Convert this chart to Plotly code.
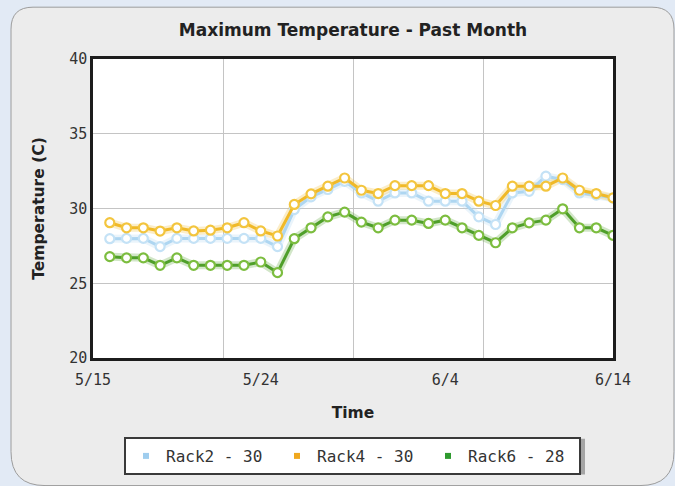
import plotly.graph_objects as go

# ---- data ----
dates = [
    "2010-05-15", "2010-05-16", "2010-05-17", "2010-05-18", "2010-05-19",
    "2010-05-20", "2010-05-21", "2010-05-22", "2010-05-23", "2010-05-24",
    "2010-05-25", "2010-05-26", "2010-05-27", "2010-05-28", "2010-05-29",
    "2010-05-30", "2010-05-31", "2010-06-01", "2010-06-02", "2010-06-03",
    "2010-06-04", "2010-06-05", "2010-06-06", "2010-06-07", "2010-06-08",
    "2010-06-09", "2010-06-10", "2010-06-11", "2010-06-12", "2010-06-13",
    "2010-06-14",
]
rack2 = [27.98, 28.0, 28.0, 27.45, 28.0, 28.0, 28.0, 28.0, 28.0, 28.0, 27.45,
         29.93, 30.78, 31.27, 31.82, 31.04, 30.49, 31.04, 31.04, 30.49, 30.49,
         30.49, 29.44, 28.93, 31.04, 31.15, 32.16, 31.93, 31.04, 30.9, 30.7]
rack4 = [29.05, 28.71, 28.71, 28.49, 28.71, 28.5, 28.55, 28.71, 29.05, 28.5, 28.16,
         30.27, 30.98, 31.49, 32.04, 31.22, 31.0, 31.53, 31.53, 31.53, 31.0,
         31.0, 30.49, 30.2, 31.49, 31.49, 31.49, 32.04, 31.22, 31.0, 30.71]
rack6 = [26.78, 26.7, 26.7, 26.2, 26.7, 26.2, 26.2, 26.2, 26.2, 26.42, 25.71,
         27.98, 28.71, 29.44, 29.76, 29.09, 28.71, 29.22, 29.22, 29.0, 29.22,
         28.71, 28.2, 27.71, 28.71, 29.04, 29.22, 29.98, 28.71, 28.71, 28.2]
series_names = ["Rack2 - 30", "Rack4 - 30", "Rack6 - 28"]
x_tickvals = ["2010-05-14", "2010-05-24", "2010-06-04", "2010-06-14"]
x_ticktext = ["5/15", "5/24", "6/4", "6/14"]
x_range = ["2010-05-14", "2010-06-14"]
y_range = [20, 40]

# ---- styles ----
W, H = 675, 486
L, R, T, B = 93, 613, 59, 359
BG = "#e2eaf5"
line_cols = ["#aed6f1", "#f0b928", "#4f9f2a"]
mk_cols = ["#c4e2f6", "#f3c53e", "#7cbd3f"]
legend_cols = ["#9fcdee", "#f0a81e", "#2f9a2f"]

def px(xp):
    return (xp - L) / (R - L)

def py(yp):
    return (B - yp) / (B - T)

def rounded(x0, y0, x1, y1, rt, rb):
    pts = [
        f"M {px(x0 + rt)} {py(y0)}",
        f"L {px(x1 - rt)} {py(y0)}",
        f"Q {px(x1)} {py(y0)} {px(x1)} {py(y0 + rt)}",
        f"L {px(x1)} {py(y1 - rb)}",
        f"Q {px(x1)} {py(y1)} {px(x1 - rb)} {py(y1)}",
        f"L {px(x0 + rb)} {py(y1)}",
        f"Q {px(x0)} {py(y1)} {px(x0)} {py(y1 - rb)}",
        f"L {px(x0)} {py(y0 + rt)}",
        f"Q {px(x0)} {py(y0)} {px(x0 + rt)} {py(y0)}",
        "Z",
    ]
    return " ".join(pts)

fig = go.Figure()

all_series = [rack2, rack4, rack6]
for vals, lc in zip(all_series, line_cols):
    fig.add_trace(go.Scatter(x=dates, y=vals, mode="lines",
                             line=dict(color=lc, width=8), opacity=0.25,
                             showlegend=False, hoverinfo="skip"))
for vals, lc, mc, name in zip(all_series, line_cols, mk_cols, series_names):
    fig.add_trace(go.Scatter(x=dates, y=vals, mode="lines+markers",
                             line=dict(color=lc, width=3),
                             marker=dict(size=9, color="white",
                                         line=dict(color=mc, width=2.2)),
                             showlegend=False, name=name))
for name, c in zip(series_names, legend_cols):
    fig.add_trace(go.Scatter(x=[None], y=[None], mode="markers",
                             marker=dict(symbol="square", size=6, color=c),
                             name=name, showlegend=True))

axis_font = dict(family="DejaVu Sans Mono", size=15, color="#333333")
title_font = dict(family="DejaVu Sans", size=17, color="#222222", weight="bold")
atitle_font = dict(family="DejaVu Sans", size=15.5, color="#222222", weight="bold")

fig.update_layout(
    width=W, height=H,
    margin=dict(l=L, r=W - R, t=T, b=H - B),
    paper_bgcolor=BG,
    plot_bgcolor="white",
    title=dict(text="Maximum Temperature - Past Month", font=title_font,
               x=0.5, xref="paper", xanchor="center",
               y=1 - 30 / H, yref="container", yanchor="middle"),
    xaxis=dict(type="date", range=x_range, tickvals=x_tickvals, ticktext=x_ticktext,
               showgrid=False, zeroline=False, ticks="",
               ticklabelstandoff=6,
               minor=dict(showgrid=True, tick0="2010-05-14", dtick=669600000,
                          gridcolor="#c4c4c4", gridwidth=1, ticks=""),
               showline=True, mirror=True, linecolor="#1c1c1c", linewidth=2.5,
               tickfont=axis_font,
               title=dict(text="Time", font=atitle_font, standoff=20)),
    yaxis=dict(range=y_range, dtick=5, showgrid=True, gridcolor="#c4c4c4",
               zeroline=False, ticks="", showline=True, mirror=True,
               linecolor="#1c1c1c", linewidth=2.5, tickfont=axis_font,
               title=dict(text="Temperature (C)", font=atitle_font, standoff=21)),
    legend=dict(orientation="h", x=px(124), xanchor="left", y=py(437), yanchor="top",
                bgcolor="white", bordercolor="#3a3a3a", borderwidth=2,
                font=dict(family="DejaVu Sans Mono", size=16, color="#333333"),
                entrywidth=106, itemwidth=30),
    shapes=[
        dict(type="path", xref="paper", yref="paper", layer="below",
             path=rounded(11, 7, 674, 487, 22, 34),
             fillcolor="#ececec", line=dict(color="#9c9c9c", width=1)),
        dict(type="rect", xref="paper", yref="paper", layer="below",
             x0=0, x1=1, y0=0, y1=1, fillcolor="white", line=dict(width=0)),
        dict(type="rect", xref="paper", yref="paper", layer="below",
             x0=px(127), x1=px(585), y0=py(440), y1=py(476),
             fillcolor="rgba(0,0,0,0.3)", line=dict(width=0)),
    ],
)

fig.write_html(
    "out.html",
    config={"displayModeBar": False},
    post_script=f"document.body.style.margin='0';document.body.style.background='{BG}';",
)
